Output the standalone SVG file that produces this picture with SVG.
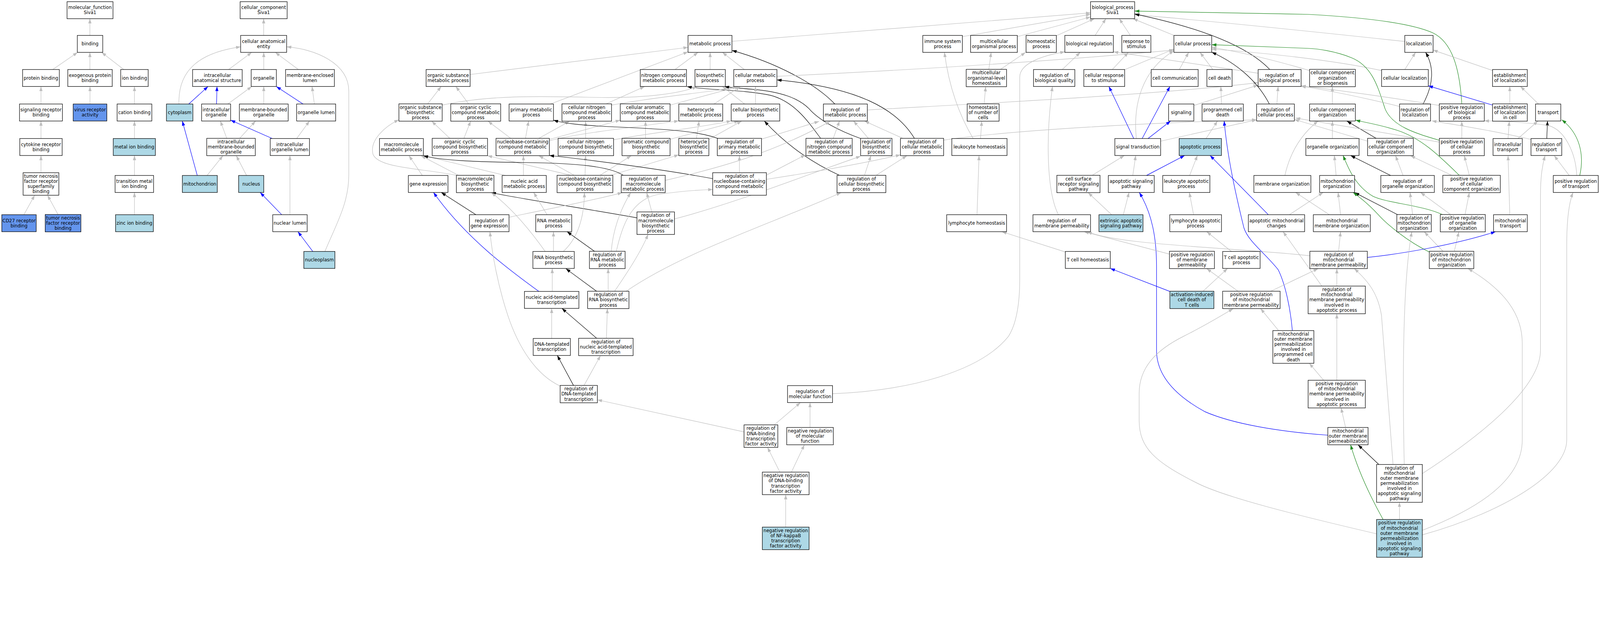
<svg xmlns="http://www.w3.org/2000/svg" width="4569" height="1597" viewBox="0 0 4569 1597" preserveAspectRatio="xMidYMin meet">
<style>
svg{max-width:100vw;max-height:100vh}
.n rect{fill:#fff;stroke:#000;stroke-width:1.4}
.n.lb rect{fill:#add8e6}
.n.cb rect{fill:#6495ed}
.n text{font-family:"DejaVu Sans","Liberation Sans",sans-serif;font-size:13px;text-anchor:middle;fill:#000}
#edges path{fill:none;stroke-width:1.3}
#edges .g{stroke:#bebebe;marker-end:url(#mg)}
#edges .k{stroke:#000;marker-end:url(#mk)}
#edges .b{stroke:#00f;marker-end:url(#mb)}
#edges .gr{stroke:#228b22;marker-end:url(#mgr)}
</style>
<defs>
<marker id="mg" viewBox="0 0 14 10" refX="13.3" refY="5" markerWidth="14" markerHeight="10" markerUnits="userSpaceOnUse" orient="auto"><path d="M0,0.4 L13.3,5 L0,9.6 z" fill="#bebebe"/></marker>
<marker id="mk" viewBox="0 0 14 10" refX="13.3" refY="5" markerWidth="14" markerHeight="10" markerUnits="userSpaceOnUse" orient="auto"><path d="M0,0.4 L13.3,5 L0,9.6 z" fill="#000"/></marker>
<marker id="mb" viewBox="0 0 14 10" refX="13.3" refY="5" markerWidth="14" markerHeight="10" markerUnits="userSpaceOnUse" orient="auto"><path d="M0,0.4 L13.3,5 L0,9.6 z" fill="#00f"/></marker>
<marker id="mgr" viewBox="0 0 14 10" refX="13.3" refY="5" markerWidth="14" markerHeight="10" markerUnits="userSpaceOnUse" orient="auto"><path d="M0,0.4 L13.3,5 L0,9.6 z" fill="#228b22"/></marker>
</defs>
<rect width="4569" height="1597" fill="#fff"/>
<g id="edges">
<path class="g" d="M256.7,101 L256.7,53.4"/>
<path class="g" d="M150.4,198.5 L221.5,149.6"/>
<path class="g" d="M256.7,198.5 L256.7,149.6"/>
<path class="g" d="M353.5,198.5 L290.4,149.6"/>
<path class="g" d="M117,297 L117,247"/>
<path class="g" d="M257,297 L257,247"/>
<path class="g" d="M384,297 L384,247"/>
<path class="g" d="M117,395.5 L117,345.5"/>
<path class="g" d="M384,395.5 L384,345.5"/>
<path class="g" d="M117,493 L117,444"/>
<path class="g" d="M384,501 L384,444"/>
<path class="g" d="M68.2,613 L99,557.4"/>
<path class="g" d="M165.8,612.5 L135.7,557.4"/>
<path class="g" d="M384,613 L384,549.5"/>
<path class="g" d="M752.9,101 L752.9,53.4"/>
<path class="g" d="M652.7,198.5 L718.8,149.6"/>
<path class="g" d="M753.2,198.5 L753.2,149.6"/>
<path class="g" d="M852.2,198.5 L786.2,149.6"/>
<path class="g" d="M511,297 C508,200 570,150 687.2,133.7"/>
<path class="b" d="M539,297 L594,247"/>
<path class="b" d="M618.3,297 L619.7,247"/>
<path class="g" d="M650.5,297 L718.8,247"/>
<path class="g" d="M753.2,297 L753.2,247"/>
<path class="b" d="M865.4,297 L789.2,247"/>
<path class="g" d="M897.7,297 L891.1,247"/>
<path class="g" d="M647.6,395 L629.3,345.5"/>
<path class="g" d="M684.3,395 L729.8,345.5"/>
<path class="b" d="M777.4,395.5 L658.6,343"/>
<path class="g" d="M847.1,395.5 L883.8,345.5"/>
<path class="b" d="M563.3,501 L520.7,345.5"/>
<path class="g" d="M591.2,501 L636.6,444.5"/>
<path class="g" d="M704.1,501 L674.8,444.5"/>
<path class="b" d="M804.6,613 L743,549.5"/>
<path class="g" d="M828,613 L828,444"/>
<path class="b" d="M893.3,718 L850.8,661.5"/>
<path class="g" d="M927.8,718 C960,640 996,580 996,500 L996,260 C996,180 900,140 818.5,133.7"/>
<path class="g" d="M2090.2,118 L3114.2,36.7"/>
<path class="g" d="M2748.1,104.6 L3114.2,40.8"/>
<path class="g" d="M2905.1,104.6 L3114.2,48.5"/>
<path class="g" d="M3016.6,102 L3125,53.4"/>
<path class="g" d="M3127.3,101 L3158,53.4"/>
<path class="g" d="M3227.8,101 L3196.3,53.4"/>
<path class="g" d="M3352.3,101 L3235.6,53.4"/>
<path class="g" d="M4011.6,118.4 C3700,85 3400,55 3240.2,42"/>
<path class="k" d="M3626,198.5 C3580,150 3480,90 3240.2,40"/>
<path class="gr" d="M4174.4,297 C4168,190 4145,120 4092,94 C4030,66 3900,50 3735,41 L3240.2,31.6"/>
<path class="g" d="M3592.7,209 L3180,148"/>
<path class="g" d="M3409.3,301 L3592.7,243"/>
<path class="g" d="M2476.8,314 C2900,290 3300,270 3592.7,236"/>
<path class="g" d="M1342.2,212.8 L1964.8,135.2"/>
<path class="g" d="M1571.7,297 L1964.8,148"/>
<path class="g" d="M1927.4,198.5 L1993.4,149.6"/>
<path class="g" d="M2027.9,198.5 L2027.9,149.6"/>
<path class="g" d="M2125.5,198.5 L2063,149.6"/>
<path class="k" d="M2384,297 C2330,240 2220,180 2090.2,144"/>
<path class="g" d="M2218.6,218 C2600,200 3000,175 3352.3,143"/>
<path class="k" d="M2611.6,395.5 C2560,310 2450,250 2218.6,228"/>
<path class="k" d="M2343.8,395.5 C2310,350 2270,290 2200,272 C2120,255 2020,258 1962,247"/>
<path class="k" d="M2457.6,395.5 C2400,375 2340,345 2310,310 C2280,280 2230,262 2150,255 C2110,252 2085,250 2069,247"/>
<path class="k" d="M2397.3,500.5 C2330,470 2250,420 2182.7,345.5"/>
<path class="g" d="M1221.4,296.5 L1259.7,247"/>
<path class="g" d="M1338.1,296.5 L1301.8,247"/>
<path class="g" d="M1263,300 C1400,270 1550,275 1700,278 C1850,281 1950,265 1990,247"/>
<path class="g" d="M1731,296.5 L1840.8,247"/>
<path class="g" d="M1746.3,300 C1900,272 2050,262 2105,247"/>
<path class="g" d="M1913.5,300 L2110,247"/>
<path class="g" d="M2039,297 L2114,247"/>
<path class="g" d="M2126.5,297 L2063,247"/>
<path class="g" d="M2157.4,297 L2157.4,247"/>
<path class="g" d="M1284.6,395 L1232.9,346"/>
<path class="g" d="M1324.8,395 L1343.9,346"/>
<path class="g" d="M1458.7,395 L1393.6,346"/>
<path class="g" d="M1500.6,395 L1509.4,345.5"/>
<path class="g" d="M1538.7,395 L1626.7,346"/>
<path class="g" d="M1568.8,398 L1771.2,343"/>
<path class="g" d="M1568.8,402 C1650,380 1800,365 1938.4,345"/>
<path class="g" d="M1672.4,395 L1672.4,346"/>
<path class="g" d="M1752,399 C1850,380 2000,365 2088,345"/>
<path class="g" d="M1843.4,395 L1843.4,346"/>
<path class="g" d="M1912,398 L2110,345.5"/>
<path class="g" d="M1988.8,395 L1996.4,345.5"/>
<path class="g" d="M2024,398 L2118,345.5"/>
<path class="k" d="M2050,395.5 C1990,372 1880,368 1750,362 C1650,357 1610,352 1580.5,343"/>
<path class="g" d="M2175,397 C2250,375 2300,358 2339,346.5"/>
<path class="g" d="M1206.1,501 L1167.9,444.5"/>
<path class="g" d="M1309.4,500.5 L1202.3,444.5"/>
<path class="g" d="M1303,500.5 C1200,480 1080,480 1065,440 C1055,400 1100,360 1139.2,342"/>
<path class="g" d="M1443.4,501 L1210,444.5"/>
<path class="g" d="M1494.7,501 L1494.7,444.5"/>
<path class="g" d="M1630.4,500.5 L1392,444.5"/>
<path class="g" d="M1640,500.5 L1538.7,444.5"/>
<path class="g" d="M1670.7,500.5 L1672.2,444.5"/>
<path class="g" d="M1713.3,500.5 L1802.6,444.5"/>
<path class="g" d="M1743.9,500.5 L1938.4,442"/>
<path class="k" d="M1780,500.5 C1740,475 1650,466 1500,464 C1350,462 1260,458 1209,444.5"/>
<path class="k" d="M2035.2,510 C1900,485 1700,458 1568.8,444"/>
<path class="g" d="M1899.6,515 C2050,480 2200,440 2370.5,346.5"/>
<path class="g" d="M2379.5,395 L2397.3,345.5"/>
<path class="g" d="M2479.9,395 L2437.5,345.5"/>
<path class="g" d="M2578,395 L2468.8,345.5"/>
<path class="g" d="M2111.5,493 L2111.5,444.5"/>
<path class="g" d="M2188.5,500 L2300,442"/>
<path class="g" d="M2188.5,512 C2300,495 2450,470 2571.4,442"/>
<path class="g" d="M2468.7,500.5 L2487,444.5"/>
<path class="g" d="M2501.7,500.5 L2589.7,444.5"/>
<path class="g" d="M1926,625 C2100,580 2300,500 2457.7,446"/>
<path class="g" d="M1861.4,605 L1846.7,550"/>
<path class="k" d="M1819,622 C1700,600 1500,570 1403,550"/>
<path class="g" d="M2694.6,400 C2900,370 3300,350 3588.4,342"/>
<path class="k" d="M1359,612.9 L1260,549.5"/>
<path class="g" d="M1453.6,620 C1600,590 1700,570 1777,550"/>
<path class="g" d="M1562.2,613 L1524,549.5"/>
<path class="g" d="M1580.5,718 L1580.5,661.5"/>
<path class="g" d="M1557,718 C1530,680 1470,600 1403,550"/>
<path class="g" d="M1608.4,718 C1650,680 1668,620 1669,550"/>
<path class="k" d="M1698.6,718 L1619.4,661.5"/>
<path class="g" d="M1745.5,717.5 C1750,660 1770,600 1801,550"/>
<path class="g" d="M1760,717.5 C1775,650 1800,570 1880,555 C1950,545 2000,542 2035.2,541"/>
<path class="k" d="M1703.7,831.5 L1616,767"/>
<path class="g" d="M1736.7,831.5 L1736.7,766.8"/>
<path class="g" d="M1755,831.5 C1790,780 1830,720 1850.6,669.4"/>
<path class="g" d="M1788,831.5 C1950,720 2200,640 2401.8,550"/>
<path class="g" d="M1577,831.9 L1577,766.4"/>
<path class="b" d="M1538.7,831.9 C1460,775 1330,680 1238,549.5"/>
<path class="k" d="M1703.7,965.7 L1604.7,880.5"/>
<path class="g" d="M1731.6,965.7 L1734.5,881"/>
<path class="g" d="M1575.4,966.2 L1575.4,880.5"/>
<path class="k" d="M1637.7,1100.3 L1591.5,1014.8"/>
<path class="g" d="M1667.8,1100.3 L1714.7,1015.3"/>
<path class="g" d="M1599.6,1102 C1530,1070 1480,990 1450,900 C1420,810 1405,720 1399,661.5"/>
<path class="g" d="M2124.6,1233 L1705.9,1141.4"/>
<path class="g" d="M2211,1213 L2285.6,1149.4"/>
<path class="g" d="M2313.1,1220.3 L2313.1,1149.4"/>
<path class="g" d="M2227,1347.8 L2191.8,1277.3"/>
<path class="g" d="M2260,1347.8 L2297,1270"/>
<path class="g" d="M2243.7,1504.8 L2243.7,1412.2"/>
<path class="g" d="M2377.4,1124 C2600,1115 2800,1060 2880,960 C2905,920 2912,860 2912,797 L2912,220 C2912,180 2980,158 3040.8,148"/>
<path class="g" d="M2823.7,198 L2830.4,149.6"/>
<path class="g" d="M2857.1,198 L2928.6,149.6"/>
<path class="g" d="M2810.3,296.5 L2814.7,247.5"/>
<path class="g" d="M2800,395.5 L2803.6,346"/>
<path class="g" d="M2779,395.5 C2740,330 2710,250 2697,149.6"/>
<path class="g" d="M2790,613 L2795.8,444"/>
<path class="g" d="M3042.2,719.4 L2861,661.5"/>
<path class="b" d="M3340.7,832 L3170.6,766.4"/>
<path class="g" d="M3435.3,831.5 L3505.4,766.4"/>
<path class="b" d="M3791.8,1242.4 C3650,1232 3520,1210 3440,1175 C3340,1120 3302.6,1060 3302.6,1000 L3302.6,760 C3302.6,680 3290,610 3253.5,549.5"/>
<path class="b" d="M3237.5,395.5 L3166.7,247"/>
<path class="b" d="M3261.6,395.5 L3340.8,247"/>
<path class="b" d="M3278.4,395.5 L3342.7,345.5"/>
<path class="g" d="M3245,395.5 C3235,300 3260,200 3352.3,145"/>
<path class="g" d="M3314.4,403 L3588.4,342"/>
<path class="g" d="M3176.3,198.5 L3222.2,149.6"/>
<path class="g" d="M3212.6,198.5 L3352.3,140"/>
<path class="g" d="M3367.6,198.5 L3394.4,149.6"/>
<path class="g" d="M3463.3,198.5 L3426.9,149.6"/>
<path class="g" d="M3488.1,297 L3486.3,247"/>
<path class="g" d="M3444.1,395.5 L3476.7,345.5"/>
<path class="b" d="M3273.9,501 L3382.9,444"/>
<path class="g" d="M3234.8,501 L3243.2,444"/>
<path class="g" d="M3118.9,500.5 L3210.7,444"/>
<path class="g" d="M3397.1,501 L3419.3,444"/>
<path class="g" d="M3207.7,613 L3224.1,549.5"/>
<path class="g" d="M3174.4,613 L3107.4,550"/>
<path class="g" d="M3408.5,613 L3396.3,549.5"/>
<path class="g" d="M3516.8,718 L3446,661.5"/>
<path class="g" d="M3339.7,725.5 L3095.9,661.5"/>
<path class="g" d="M3740.5,730 C3500,705 3200,700 3105,661.5"/>
<path class="g" d="M3022.4,613 C2990,550 2985,400 3005.5,247"/>
<path class="g" d="M3033.4,198.5 L3084.8,149.6"/>
<path class="b" d="M3622,613 L3455.6,444"/>
<path class="b" d="M3690.5,943.8 C3685,880 3670,810 3650,770 C3610,720 3565,690 3552,650 C3530,560 3505,450 3495.8,345.5"/>
<path class="g" d="M3739.7,201.5 C3650,175 3550,150 3460.2,135"/>
<path class="g" d="M3945.3,201.5 C3800,170 3600,150 3460.2,140"/>
<path class="gr" d="M4110.1,400.5 C4040,380 3975,360 3955,310 C3935,250 3920,190 3860,165 C3810,145 3760,139 3735,138 L3460.2,127.6"/>
<path class="k" d="M3624.8,297 C3590,230 3530,180 3460.2,149"/>
<path class="g" d="M4011.6,198.5 L4042.3,149.6"/>
<path class="g" d="M4262.8,201.5 L4092.3,142.9"/>
<path class="k" d="M4063.7,297 C4095,240 4095,190 4071,149.6"/>
<path class="g" d="M4110.1,301 C3950,275 3800,255 3715.5,245"/>
<path class="g" d="M3996.7,304 C3900,280 3780,255 3715.5,246.5"/>
<path class="g" d="M3646.3,297 L3649.8,247"/>
<path class="g" d="M3804.7,297 L3804.7,247.5"/>
<path class="g" d="M4311.4,296.5 L4311.4,247"/>
<path class="b" d="M4262.1,300 L4078.7,245"/>
<path class="g" d="M4393.4,297 L4342.1,247"/>
<path class="g" d="M3804.7,395.5 L3804.7,345.5"/>
<path class="k" d="M3929.6,395 L3846.1,345.5"/>
<path class="g" d="M3905.3,403 L3696.2,341"/>
<path class="g" d="M4110.1,405.6 L3699.8,337"/>
<path class="g" d="M4174.4,395 L4174.4,346"/>
<path class="g" d="M4306.4,395.5 L4310,346"/>
<path class="g" d="M4334.9,395.5 L4392,345.5"/>
<path class="k" d="M4417,395.5 L4419.1,345.5"/>
<path class="g" d="M4372,398 C4250,370 4150,355 4088.7,345"/>
<path class="g" d="M4502.6,501 C4500,440 4470,370 4420,358 C4350,348 4290,346 4238.6,345"/>
<path class="g" d="M4481.2,501 L4438.4,444.5"/>
<path class="gr" d="M4511.2,501 C4525,440 4510,380 4459.8,342"/>
<path class="g" d="M3815.4,501 L3810.4,444"/>
<path class="g" d="M3669.1,501 C3685,430 3720,380 3764,345.5"/>
<path class="k" d="M3971,501 L3856.8,444"/>
<path class="g" d="M4006.6,501 L3985.2,444.5"/>
<path class="g" d="M4145.8,500.5 L4028,444.5"/>
<path class="g" d="M4195.8,500.5 L4181.5,444.5"/>
<path class="gr" d="M4167.2,500.5 C4110,445 4060,395 3990,372 C3940,356 3900,350 3871,343"/>
<path class="g" d="M4142.2,612.5 L4056.6,549.5"/>
<path class="g" d="M4183.6,612.5 L4195.8,550"/>
<path class="gr" d="M4118.7,612.5 C4060,585 3960,580 3920,560 C3870,530 3850,480 3835.4,444"/>
<path class="k" d="M3990.2,612.5 L3868.2,549.5"/>
<path class="g" d="M4033.8,612.5 L4026.6,549.5"/>
<path class="g" d="M3796.1,613 L3699.8,549.5"/>
<path class="g" d="M3828.2,613 L3821.1,549.5"/>
<path class="g" d="M3682,613 L3778.3,549.5"/>
<path class="gr" d="M4081.6,719.4 C4020,690 3960,640 3935,612 C3910,585 3890,568 3863.9,549.5"/>
<path class="g" d="M4120.8,717.5 L4067.3,662"/>
<path class="g" d="M4153,717.5 L4165.8,662"/>
<path class="g" d="M4311.4,613 L4306.4,444.5"/>
<path class="b" d="M3904.6,735 C4000,725 4150,700 4270.7,661.5"/>
<path class="g" d="M3822.5,717.5 L3828.2,661.5"/>
<path class="g" d="M3628.4,831.5 L3764,767"/>
<path class="g" d="M3535.6,831.5 L3446,767"/>
<path class="g" d="M3817.5,816.7 L3817.5,767"/>
<path class="g" d="M3774.7,816.7 L3664,661.5"/>
<path class="g" d="M3651.3,943.8 L3599.9,881"/>
<path class="g" d="M3817.5,1085.6 L3817.5,895.7"/>
<path class="g" d="M3779.7,1085.6 L3739,1037.3"/>
<path class="g" d="M3842.5,1220.4 L3829.7,1164.6"/>
<path class="k" d="M3937.4,1326 L3878.2,1270"/>
<path class="gr" d="M3949.6,1483 C3920,1430 3880,1350 3856.8,1270"/>
<path class="g" d="M3996.3,1483 L3996.3,1434"/>
<path class="g" d="M4010,1326 C4003,1000 4010,780 4031.6,662"/>
<path class="g" d="M3978,1326 C3960,1100 3950,950 3945,900 C3935,840 3910,805 3867.5,767"/>
<path class="g" d="M4061.6,1352 C4250,1230 4399,1100 4399,1000 L4399,560 C4399,500 4405,470 4412,444.5"/>
<path class="g" d="M4061.6,1514 C4200,1460 4347,1380 4347,1256 L4347,980 C4347,900 4300,830 4192.2,767"/>
<path class="g" d="M4061.6,1527 C4300,1460 4474,1350 4474,1256 L4474,700 C4474,630 4480,580 4491.9,550"/>
<path class="g" d="M3931,1524 C3700,1470 3500,1420 3420,1380 C3300,1320 3253,1280 3253,1200 L3253,1123 C3253,1050 3300,1000 3380,960 C3440,930 3490,900 3521.4,881.2"/>
</g>
<g id="n_mf" class="n"><rect x="191.4" y="4.85" width="131.3" height="48.5"/><text x="257.05" y="26.1">molecular_function<tspan x="257.05" dy="14.6">Siva1</tspan></text></g>
<g id="n_binding" class="n"><rect x="220.8" y="101.05" width="72.6" height="48.5"/><text x="257.1" y="129.6">binding</text></g>
<g id="n_protbind" class="n"><rect x="64.5" y="198.45" width="104.9" height="48.5"/><text x="116.95" y="227">protein binding</text></g>
<g id="n_exoprot" class="n"><rect x="193.6" y="198.45" width="126.9" height="48.5"/><text x="257.05" y="219.7">exogenous protein<tspan x="257.05" dy="14.6">binding</tspan></text></g>
<g id="n_ionbind" class="n"><rect x="344.7" y="198.45" width="78.5" height="48.5"/><text x="383.95" y="227">ion binding</text></g>
<g id="n_sigrec" class="n"><rect x="55.7" y="296.95" width="122.5" height="48.5"/><text x="116.95" y="318.2">signaling receptor<tspan x="116.95" dy="14.6">binding</tspan></text></g>
<g id="n_virus" class="n cb"><rect x="209" y="296.95" width="96.1" height="48.5"/><text x="257.05" y="318.2">virus receptor<tspan x="257.05" dy="14.6">activity</tspan></text></g>
<g id="n_cation" class="n"><rect x="334.4" y="296.95" width="99.1" height="48.5"/><text x="383.95" y="325.5">cation binding</text></g>
<g id="n_cytok" class="n"><rect x="56.5" y="395.45" width="121" height="48.5"/><text x="117" y="416.7">cytokine receptor<tspan x="117" dy="14.6">binding</tspan></text></g>
<g id="n_metal" class="n lb"><rect x="323.4" y="395.45" width="120.3" height="48.5"/><text x="383.55" y="424">metal ion binding</text></g>
<g id="n_tnfrsf" class="n"><rect x="66" y="493.05" width="102" height="64.3"/><text x="117" y="507.6">tumor necrosis<tspan x="117" dy="14.6">factor receptor</tspan><tspan x="117" dy="14.6">superfamily</tspan><tspan x="117" dy="14.6">binding</tspan></text></g>
<g id="n_transmetal" class="n"><rect x="328.6" y="500.95" width="110" height="48.5"/><text x="383.6" y="522.2">transition metal<tspan x="383.6" dy="14.6">ion binding</tspan></text></g>
<g id="n_cd27" class="n cb"><rect x="5.1" y="612.95" width="98.3" height="48.5"/><text x="54.25" y="634.2">CD27 receptor<tspan x="54.25" dy="14.6">binding</tspan></text></g>
<g id="n_tnfr" class="n cb"><rect x="129.1" y="612.45" width="101.9" height="49.5"/><text x="180.05" y="626.9">tumor necrosis<tspan x="180.05" dy="14.6">factor receptor</tspan><tspan x="180.05" dy="14.6">binding</tspan></text></g>
<g id="n_zinc" class="n lb"><rect x="330" y="612.95" width="107.9" height="48.5"/><text x="383.95" y="641.5">zinc ion binding</text></g>
<g id="n_cc" class="n"><rect x="685.7" y="4.85" width="134.3" height="48.5"/><text x="752.85" y="26.1">cellular_component<tspan x="752.85" dy="14.6">Siva1</tspan></text></g>
<g id="n_cae" class="n"><rect x="687.2" y="101.05" width="131.3" height="48.5"/><text x="752.85" y="122.3">cellular anatomical<tspan x="752.85" dy="14.6">entity</tspan></text></g>
<g id="n_ias" class="n"><rect x="550" y="198.45" width="141.6" height="48.5"/><text x="620.8" y="219.7">intracellular<tspan x="620.8" dy="14.6">anatomical structure</tspan></text></g>
<g id="n_organelle" class="n"><rect x="717.3" y="198.45" width="71.9" height="48.5"/><text x="753.25" y="227">organelle</text></g>
<g id="n_mel" class="n"><rect x="815.5" y="198.45" width="139.4" height="48.5"/><text x="885.2" y="219.7">membrane-enclosed<tspan x="885.2" dy="14.6">lumen</tspan></text></g>
<g id="n_cytoplasm" class="n lb"><rect x="475.3" y="296.95" width="75.5" height="48.5"/><text x="513.05" y="325.5">cytoplasm</text></g>
<g id="n_io" class="n"><rect x="575.7" y="296.95" width="82.9" height="48.5"/><text x="617.15" y="318.2">intracellular<tspan x="617.15" dy="14.6">organelle</tspan></text></g>
<g id="n_mbo" class="n"><rect x="683.5" y="296.95" width="139.4" height="48.5"/><text x="753.2" y="318.2">membrane-bounded<tspan x="753.2" dy="14.6">organelle</tspan></text></g>
<g id="n_ol" class="n"><rect x="847.1" y="296.95" width="111.5" height="48.5"/><text x="902.85" y="325.5">organelle lumen</text></g>
<g id="n_imbo" class="n"><rect x="590.4" y="394.95" width="138.6" height="49.5"/><text x="659.7" y="409.4">intracellular<tspan x="659.7" dy="14.6">membrane-bounded</tspan><tspan x="659.7" dy="14.6">organelle</tspan></text></g>
<g id="n_iol" class="n"><rect x="771.6" y="395.45" width="112.2" height="48.5"/><text x="827.7" y="416.7">intracellular<tspan x="827.7" dy="14.6">organelle lumen</tspan></text></g>
<g id="n_mito" class="n lb"><rect x="520.7" y="500.95" width="99.8" height="48.5"/><text x="570.6" y="529.5">mitochondrion</text></g>
<g id="n_nucleus" class="n lb"><rect x="681.4" y="500.95" width="71.8" height="48.5"/><text x="717.3" y="529.5">nucleus</text></g>
<g id="n_nuclum" class="n"><rect x="778.9" y="612.95" width="98.3" height="48.5"/><text x="828.05" y="641.5">nuclear lumen</text></g>
<g id="n_nucleoplasm" class="n lb"><rect x="867.6" y="717.85" width="88.8" height="48.5"/><text x="912" y="746.4">nucleoplasm</text></g>
<g id="n_bp" class="n"><rect x="3114.2" y="4.85" width="126" height="48.5"/><text x="3177.2" y="26.1">biological_process<tspan x="3177.2" dy="14.6">Siva1</tspan></text></g>
<g id="n_metab" class="n"><rect x="1964.8" y="101.05" width="125.4" height="48.5"/><text x="2027.5" y="129.6">metabolic process</text></g>
<g id="n_immune" class="n"><rect x="2635.2" y="101.05" width="112.9" height="48.5"/><text x="2691.65" y="122.3">immune system<tspan x="2691.65" dy="14.6">process</tspan></text></g>
<g id="n_multorg" class="n"><rect x="2771.6" y="101.05" width="133.5" height="48.5"/><text x="2838.35" y="122.3">multicellular<tspan x="2838.35" dy="14.6">organismal process</tspan></text></g>
<g id="n_homeo" class="n"><rect x="2930" y="101.05" width="86.6" height="48.5"/><text x="2973.3" y="122.3">homeostatic<tspan x="2973.3" dy="14.6">process</tspan></text></g>
<g id="n_bioreg" class="n"><rect x="3040.8" y="101.05" width="138.6" height="48.5"/><text x="3110.1" y="129.6">biological regulation</text></g>
<g id="n_resp" class="n"><rect x="3203.5" y="101.05" width="83" height="48.5"/><text x="3245" y="122.3">response to<tspan x="3245" dy="14.6">stimulus</tspan></text></g>
<g id="n_cellproc" class="n"><rect x="3352.3" y="101.05" width="107.9" height="48.5"/><text x="3406.25" y="129.6">cellular process</text></g>
<g id="n_local" class="n"><rect x="4011.6" y="101.05" width="80.7" height="48.5"/><text x="4051.95" y="129.6">localization</text></g>
<g id="n_osmp" class="n"><rect x="1216.8" y="198.45" width="125.7" height="48.5"/><text x="1279.65" y="219.7">organic substance<tspan x="1279.65" dy="14.6">metabolic process</tspan></text></g>
<g id="n_ncmp" class="n"><rect x="1828.4" y="198.45" width="132" height="48.5"/><text x="1894.4" y="219.7">nitrogen compound<tspan x="1894.4" dy="14.6">metabolic process</tspan></text></g>
<g id="n_biosyn" class="n"><rect x="1984.6" y="198.45" width="86.6" height="48.5"/><text x="2027.9" y="219.7">biosynthetic<tspan x="2027.9" dy="14.6">process</tspan></text></g>
<g id="n_cellmet" class="n"><rect x="2095.4" y="198.45" width="123.2" height="48.5"/><text x="2157" y="219.7">cellular metabolic<tspan x="2157" dy="14.6">process</tspan></text></g>
<g id="n_mulhomeo" class="n"><rect x="2759.1" y="197.95" width="115.2" height="49.5"/><text x="2816.7" y="212.4">multicellular<tspan x="2816.7" dy="14.6">organismal-level</tspan><tspan x="2816.7" dy="14.6">homeostasis</tspan></text></g>
<g id="n_regbioq" class="n"><rect x="2951.3" y="198.45" width="118" height="48.5"/><text x="3010.3" y="219.7">regulation of<tspan x="3010.3" dy="14.6">biological quality</tspan></text></g>
<g id="n_cellresp" class="n"><rect x="3095" y="198.45" width="116.6" height="48.5"/><text x="3153.3" y="219.7">cellular response<tspan x="3153.3" dy="14.6">to stimulus</tspan></text></g>
<g id="n_cellcomm" class="n"><rect x="3287.5" y="198.45" width="134" height="48.5"/><text x="3354.5" y="227">cell communication</text></g>
<g id="n_celldeath" class="n"><rect x="3446.4" y="198.45" width="72" height="48.5"/><text x="3482.4" y="227">cell death</text></g>
<g id="n_regbp" class="n"><rect x="3592.7" y="198.45" width="122.8" height="48.5"/><text x="3654.1" y="219.7">regulation of<tspan x="3654.1" dy="14.6">biological process</tspan></text></g>
<g id="n_ccob" class="n"><rect x="3739.7" y="197.95" width="130.6" height="49.5"/><text x="3805" y="212.4">cellular component<tspan x="3805" dy="14.6">organization</tspan><tspan x="3805" dy="14.6">or biogenesis</tspan></text></g>
<g id="n_cellloc" class="n"><rect x="3945.3" y="198.45" width="133.4" height="48.5"/><text x="4012" y="227">cellular localization</text></g>
<g id="n_estloc" class="n"><rect x="4262.1" y="198.45" width="99.2" height="48.5"/><text x="4311.7" y="219.7">establishment<tspan x="4311.7" dy="14.6">of localization</tspan></text></g>
<g id="n_osbp" class="n"><rect x="1139.2" y="296.45" width="123.5" height="49.5"/><text x="1200.95" y="310.9">organic substance<tspan x="1200.95" dy="14.6">biosynthetic</tspan><tspan x="1200.95" dy="14.6">process</tspan></text></g>
<g id="n_occmp" class="n"><rect x="1287.2" y="296.45" width="142.5" height="49.5"/><text x="1358.45" y="310.9">organic cyclic<tspan x="1358.45" dy="14.6">compound metabolic</tspan><tspan x="1358.45" dy="14.6">process</tspan></text></g>
<g id="n_pmp" class="n"><rect x="1453.8" y="296.95" width="126.7" height="48.5"/><text x="1517.15" y="318.2">primary metabolic<tspan x="1517.15" dy="14.6">process</tspan></text></g>
<g id="n_cncmp" class="n"><rect x="1604.7" y="296.45" width="141.6" height="49.5"/><text x="1675.5" y="310.9">cellular nitrogen<tspan x="1675.5" dy="14.6">compound metabolic</tspan><tspan x="1675.5" dy="14.6">process</tspan></text></g>
<g id="n_cacmp" class="n"><rect x="1771.2" y="296.45" width="142.3" height="49.5"/><text x="1842.35" y="310.9">cellular aromatic<tspan x="1842.35" dy="14.6">compound metabolic</tspan><tspan x="1842.35" dy="14.6">process</tspan></text></g>
<g id="n_hetmp" class="n"><rect x="1938.4" y="296.95" width="125.4" height="48.5"/><text x="2001.1" y="318.2">heterocycle<tspan x="2001.1" dy="14.6">metabolic process</tspan></text></g>
<g id="n_cbp" class="n"><rect x="2088" y="296.95" width="138.7" height="48.5"/><text x="2157.35" y="318.2">cellular biosynthetic<tspan x="2157.35" dy="14.6">process</tspan></text></g>
<g id="n_regmp" class="n"><rect x="2351.3" y="296.95" width="125.5" height="48.5"/><text x="2414.05" y="318.2">regulation of<tspan x="2414.05" dy="14.6">metabolic process</tspan></text></g>
<g id="n_homnum" class="n"><rect x="2762" y="296.45" width="91" height="49.5"/><text x="2807.5" y="310.9">homeostasis<tspan x="2807.5" dy="14.6">of number of</tspan><tspan x="2807.5" dy="14.6">cells</tspan></text></g>
<g id="n_signaling" class="n"><rect x="3337" y="296.95" width="72.2" height="48.5"/><text x="3373.1" y="325.5">signaling</text></g>
<g id="n_pcd" class="n"><rect x="3432.7" y="296.95" width="117.8" height="48.5"/><text x="3491.6" y="318.2">programmed cell<tspan x="3491.6" dy="14.6">death</tspan></text></g>
<g id="n_regcp" class="n"><rect x="3588.4" y="296.95" width="107.8" height="48.5"/><text x="3642.3" y="318.2">regulation of<tspan x="3642.3" dy="14.6">cellular process</tspan></text></g>
<g id="n_cco" class="n"><rect x="3739.7" y="296.95" width="130.6" height="48.5"/><text x="3805" y="318.2">cellular component<tspan x="3805" dy="14.6">organization</tspan></text></g>
<g id="n_regloc" class="n"><rect x="3996.7" y="296.95" width="88.4" height="48.5"/><text x="4040.9" y="318.2">regulation of<tspan x="4040.9" dy="14.6">localization</tspan></text></g>
<g id="n_posregbp" class="n"><rect x="4110.1" y="296.45" width="128.5" height="49.5"/><text x="4174.35" y="310.9">positive regulation<tspan x="4174.35" dy="14.6">of biological</tspan><tspan x="4174.35" dy="14.6">process</tspan></text></g>
<g id="n_estlocc" class="n"><rect x="4262.1" y="296.45" width="99.2" height="49.5"/><text x="4311.7" y="310.9">establishment<tspan x="4311.7" dy="14.6">of localization</tspan><tspan x="4311.7" dy="14.6">in cell</tspan></text></g>
<g id="n_transport" class="n"><rect x="4384.9" y="296.95" width="72.1" height="48.5"/><text x="4420.95" y="325.5">transport</text></g>
<g id="n_mmp" class="n"><rect x="1083.7" y="395.45" width="125.3" height="48.5"/><text x="1146.35" y="416.7">macromolecule<tspan x="1146.35" dy="14.6">metabolic process</tspan></text></g>
<g id="n_occbp" class="n"><rect x="1234.2" y="394.95" width="158" height="49.5"/><text x="1313.2" y="409.4">organic cyclic<tspan x="1313.2" dy="14.6">compound biosynthetic</tspan><tspan x="1313.2" dy="14.6">process</tspan></text></g>
<g id="n_nbcmp" class="n"><rect x="1416.4" y="394.95" width="152.4" height="49.5"/><text x="1492.6" y="409.4">nucleobase-containing<tspan x="1492.6" dy="14.6">compound metabolic</tspan><tspan x="1492.6" dy="14.6">process</tspan></text></g>
<g id="n_cncbp" class="n"><rect x="1593.7" y="394.95" width="158.4" height="49.5"/><text x="1672.9" y="409.4">cellular nitrogen<tspan x="1672.9" dy="14.6">compound biosynthetic</tspan><tspan x="1672.9" dy="14.6">process</tspan></text></g>
<g id="n_acbp" class="n"><rect x="1776.3" y="394.95" width="137.2" height="49.5"/><text x="1844.9" y="409.4">aromatic compound<tspan x="1844.9" dy="14.6">biosynthetic</tspan><tspan x="1844.9" dy="14.6">process</tspan></text></g>
<g id="n_hetbp" class="n"><rect x="1938.4" y="394.95" width="85.8" height="49.5"/><text x="1981.3" y="409.4">heterocycle<tspan x="1981.3" dy="14.6">biosynthetic</tspan><tspan x="1981.3" dy="14.6">process</tspan></text></g>
<g id="n_regpmp" class="n"><rect x="2048.4" y="394.95" width="126.2" height="49.5"/><text x="2111.5" y="409.4">regulation of<tspan x="2111.5" dy="14.6">primary metabolic</tspan><tspan x="2111.5" dy="14.6">process</tspan></text></g>
<g id="n_regncmp" class="n"><rect x="2301.5" y="394.95" width="132" height="49.5"/><text x="2367.5" y="409.4">regulation of<tspan x="2367.5" dy="14.6">nitrogen compound</tspan><tspan x="2367.5" dy="14.6">metabolic process</tspan></text></g>
<g id="n_regbiosyn" class="n"><rect x="2457.7" y="394.95" width="89.5" height="49.5"/><text x="2502.45" y="409.4">regulation of<tspan x="2502.45" dy="14.6">biosynthetic</tspan><tspan x="2502.45" dy="14.6">process</tspan></text></g>
<g id="n_regcmp" class="n"><rect x="2571.4" y="394.95" width="123.2" height="49.5"/><text x="2633" y="409.4">regulation of<tspan x="2633" dy="14.6">cellular metabolic</tspan><tspan x="2633" dy="14.6">process</tspan></text></g>
<g id="n_leukhom" class="n"><rect x="2718" y="395.45" width="157.7" height="48.5"/><text x="2796.85" y="424">leukocyte homeostasis</text></g>
<g id="n_sigtrans" class="n"><rect x="3183.6" y="395.45" width="130.8" height="48.5"/><text x="3249" y="424">signal transduction</text></g>
<g id="n_apop" class="n lb"><rect x="3367.2" y="395.45" width="120.8" height="48.5"/><text x="3427.6" y="424">apoptotic process</text></g>
<g id="n_orgorg" class="n"><rect x="3729" y="395.45" width="152" height="48.5"/><text x="3805" y="424">organelle organization</text></g>
<g id="n_regcco" class="n"><rect x="3905.3" y="394.95" width="130.6" height="49.5"/><text x="3970.6" y="409.4">regulation of<tspan x="3970.6" dy="14.6">cellular component</tspan><tspan x="3970.6" dy="14.6">organization</tspan></text></g>
<g id="n_posregcp" class="n"><rect x="4110.1" y="394.95" width="128.5" height="49.5"/><text x="4174.35" y="409.4">positive regulation<tspan x="4174.35" dy="14.6">of cellular</tspan><tspan x="4174.35" dy="14.6">process</tspan></text></g>
<g id="n_intratrans" class="n"><rect x="4263.6" y="395.45" width="83.5" height="48.5"/><text x="4305.35" y="416.7">intracellular<tspan x="4305.35" dy="14.6">transport</tspan></text></g>
<g id="n_regtrans" class="n"><rect x="4372" y="395.45" width="87.8" height="48.5"/><text x="4415.9" y="416.7">regulation of<tspan x="4415.9" dy="14.6">transport</tspan></text></g>
<g id="n_geneexp" class="n"><rect x="1166.1" y="500.95" width="113.1" height="48.5"/><text x="1222.65" y="529.5">gene expression</text></g>
<g id="n_mbp" class="n"><rect x="1303.3" y="500.45" width="107.2" height="49.5"/><text x="1356.9" y="514.9">macromolecule<tspan x="1356.9" dy="14.6">biosynthetic</tspan><tspan x="1356.9" dy="14.6">process</tspan></text></g>
<g id="n_namp" class="n"><rect x="1433.9" y="500.95" width="126.1" height="48.5"/><text x="1496.95" y="522.2">nucleic acid<tspan x="1496.95" dy="14.6">metabolic process</tspan></text></g>
<g id="n_nbcbp" class="n"><rect x="1590.8" y="500.45" width="159.2" height="49.5"/><text x="1670.4" y="514.9">nucleobase-containing<tspan x="1670.4" dy="14.6">compound biosynthetic</tspan><tspan x="1670.4" dy="14.6">process</tspan></text></g>
<g id="n_regmmp" class="n"><rect x="1774.1" y="500.45" width="125.5" height="49.5"/><text x="1836.85" y="514.9">regulation of<tspan x="1836.85" dy="14.6">macromolecule</tspan><tspan x="1836.85" dy="14.6">metabolic process</tspan></text></g>
<g id="n_regnbcmp" class="n"><rect x="2035.2" y="493.05" width="153.3" height="64.3"/><text x="2111.85" y="507.6">regulation of<tspan x="2111.85" dy="14.6">nucleobase-containing</tspan><tspan x="2111.85" dy="14.6">compound metabolic</tspan><tspan x="2111.85" dy="14.6">process</tspan></text></g>
<g id="n_regcbp" class="n"><rect x="2390.2" y="500.45" width="139.4" height="49.5"/><text x="2459.9" y="514.9">regulation of<tspan x="2459.9" dy="14.6">cellular biosynthetic</tspan><tspan x="2459.9" dy="14.6">process</tspan></text></g>
<g id="n_cellsurf" class="n"><rect x="3018" y="500.45" width="123.2" height="49.5"/><text x="3079.6" y="514.9">cell surface<tspan x="3079.6" dy="14.6">receptor signaling</tspan><tspan x="3079.6" dy="14.6">pathway</tspan></text></g>
<g id="n_apopsig" class="n"><rect x="3165" y="500.95" width="131" height="48.5"/><text x="3230.5" y="522.2">apoptotic signaling<tspan x="3230.5" dy="14.6">pathway</tspan></text></g>
<g id="n_leukapop" class="n"><rect x="3320.3" y="500.95" width="134.7" height="48.5"/><text x="3387.65" y="522.2">leukocyte apoptotic<tspan x="3387.65" dy="14.6">process</tspan></text></g>
<g id="n_memorg" class="n"><rect x="3580.6" y="500.95" width="162.7" height="48.5"/><text x="3661.95" y="529.5">membrane organization</text></g>
<g id="n_mitoorg" class="n"><rect x="3768.3" y="500.95" width="99.9" height="48.5"/><text x="3818.25" y="522.2">mitochondrion<tspan x="3818.25" dy="14.6">organization</tspan></text></g>
<g id="n_regorgorg" class="n"><rect x="3943.1" y="500.95" width="152.8" height="48.5"/><text x="4019.5" y="522.2">regulation of<tspan x="4019.5" dy="14.6">organelle organization</tspan></text></g>
<g id="n_posregcco" class="n"><rect x="4120.1" y="500.45" width="164.2" height="49.5"/><text x="4202.2" y="514.9">positive regulation<tspan x="4202.2" dy="14.6">of cellular</tspan><tspan x="4202.2" dy="14.6">component organization</tspan></text></g>
<g id="n_posregtrans" class="n"><rect x="4435.6" y="500.95" width="128.4" height="48.5"/><text x="4499.8" y="522.2">positive regulation<tspan x="4499.8" dy="14.6">of transport</tspan></text></g>
<g id="n_reggeneexp" class="n"><rect x="1340.6" y="612.95" width="113" height="48.5"/><text x="1397.1" y="634.2">regulation of<tspan x="1397.1" dy="14.6">gene expression</tspan></text></g>
<g id="n_rnamp" class="n"><rect x="1529.9" y="612.95" width="102.7" height="48.5"/><text x="1581.25" y="634.2">RNA metabolic<tspan x="1581.25" dy="14.6">process</tspan></text></g>
<g id="n_regmbp" class="n"><rect x="1818.9" y="605.05" width="107.1" height="64.3"/><text x="1872.45" y="619.6">regulation of<tspan x="1872.45" dy="14.6">macromolecule</tspan><tspan x="1872.45" dy="14.6">biosynthetic</tspan><tspan x="1872.45" dy="14.6">process</tspan></text></g>
<g id="n_lymphhom" class="n"><rect x="2703.4" y="612.95" width="170.9" height="48.5"/><text x="2788.85" y="641.5">lymphocyte homeostasis</text></g>
<g id="n_regmemperm" class="n"><rect x="2949.8" y="612.95" width="164.3" height="48.5"/><text x="3031.95" y="634.2">regulation of<tspan x="3031.95" dy="14.6">membrane permeability</tspan></text></g>
<g id="n_extapop" class="n lb"><rect x="3138.2" y="612.95" width="125.8" height="48.5"/><text x="3201.1" y="634.2">extrinsic apoptotic<tspan x="3201.1" dy="14.6">signaling pathway</tspan></text></g>
<g id="n_lymphapop" class="n"><rect x="3340.4" y="612.95" width="147.7" height="48.5"/><text x="3414.25" y="634.2">lymphocyte apoptotic<tspan x="3414.25" dy="14.6">process</tspan></text></g>
<g id="n_apopmito" class="n"><rect x="3564.8" y="612.95" width="160.7" height="48.5"/><text x="3645.15" y="634.2">apoptotic mitochondrial<tspan x="3645.15" dy="14.6">changes</tspan></text></g>
<g id="n_mitomemorg" class="n"><rect x="3750.4" y="612.95" width="162.8" height="48.5"/><text x="3831.8" y="634.2">mitochondrial<tspan x="3831.8" dy="14.6">membrane organization</tspan></text></g>
<g id="n_regmitoorg" class="n"><rect x="3988.8" y="612.45" width="98.5" height="49.5"/><text x="4038.05" y="626.9">regulation of<tspan x="4038.05" dy="14.6">mitochondrion</tspan><tspan x="4038.05" dy="14.6">organization</tspan></text></g>
<g id="n_posregorgorg" class="n"><rect x="4113" y="612.45" width="128.4" height="49.5"/><text x="4177.2" y="626.9">positive regulation<tspan x="4177.2" dy="14.6">of organelle</tspan><tspan x="4177.2" dy="14.6">organization</tspan></text></g>
<g id="n_mitotrans" class="n"><rect x="4265" y="612.95" width="96.3" height="48.5"/><text x="4313.15" y="634.2">mitochondrial<tspan x="4313.15" dy="14.6">transport</tspan></text></g>
<g id="n_rnabp" class="n"><rect x="1521.8" y="717.85" width="118.1" height="48.5"/><text x="1580.85" y="739.1">RNA biosynthetic<tspan x="1580.85" dy="14.6">process</tspan></text></g>
<g id="n_regrnamp" class="n"><rect x="1683.2" y="717.35" width="101.9" height="49.5"/><text x="1734.15" y="731.8">regulation of<tspan x="1734.15" dy="14.6">RNA metabolic</tspan><tspan x="1734.15" dy="14.6">process</tspan></text></g>
<g id="n_tcellhom" class="n"><rect x="3042.2" y="717.85" width="128.4" height="48.5"/><text x="3106.4" y="746.4">T cell homeostasis</text></g>
<g id="n_posregmemperm" class="n"><rect x="3339.5" y="717.35" width="128.4" height="49.5"/><text x="3403.7" y="731.8">positive regulation<tspan x="3403.7" dy="14.6">of membrane</tspan><tspan x="3403.7" dy="14.6">permeability</tspan></text></g>
<g id="n_tcellapop" class="n"><rect x="3491.5" y="717.85" width="106.9" height="48.5"/><text x="3544.95" y="739.1">T cell apoptotic<tspan x="3544.95" dy="14.6">process</tspan></text></g>
<g id="n_regmitomemperm" class="n"><rect x="3740.5" y="717.35" width="164.1" height="49.5"/><text x="3822.55" y="731.8">regulation of<tspan x="3822.55" dy="14.6">mitochondrial</tspan><tspan x="3822.55" dy="14.6">membrane permeability</tspan></text></g>
<g id="n_posregmitoorg" class="n"><rect x="4081.6" y="717.35" width="127" height="49.5"/><text x="4145.1" y="731.8">positive regulation<tspan x="4145.1" dy="14.6">of mitochondrion</tspan><tspan x="4145.1" dy="14.6">organization</tspan></text></g>
<g id="n_natt" class="n"><rect x="1497.6" y="831.95" width="155.5" height="48.5"/><text x="1575.35" y="853.2">nucleic acid-templated<tspan x="1575.35" dy="14.6">transcription</tspan></text></g>
<g id="n_regrnabp" class="n"><rect x="1678.1" y="831.45" width="118" height="49.5"/><text x="1737.1" y="845.9">regulation of<tspan x="1737.1" dy="14.6">RNA biosynthetic</tspan><tspan x="1737.1" dy="14.6">process</tspan></text></g>
<g id="n_aicd" class="n lb"><rect x="3340.7" y="831.45" width="125.7" height="49.5"/><text x="3403.55" y="845.9">activation-induced<tspan x="3403.55" dy="14.6">cell death of</tspan><tspan x="3403.55" dy="14.6">T cells</tspan></text></g>
<g id="n_posregmitomemperm" class="n"><rect x="3491.4" y="831.45" width="164.1" height="49.5"/><text x="3573.45" y="845.9">positive regulation<tspan x="3573.45" dy="14.6">of mitochondrial</tspan><tspan x="3573.45" dy="14.6">membrane permeability</tspan></text></g>
<g id="n_regmmpapop" class="n"><rect x="3735.5" y="816.7" width="163.4" height="79"/><text x="3817.2" y="831.3">regulation of<tspan x="3817.2" dy="14.6">mitochondrial</tspan><tspan x="3817.2" dy="14.6">membrane permeability</tspan><tspan x="3817.2" dy="14.6">involved in</tspan><tspan x="3817.2" dy="14.6">apoptotic process</tspan></text></g>
<g id="n_dtt" class="n"><rect x="1522.6" y="966.25" width="106.3" height="48.5"/><text x="1575.75" y="987.5">DNA-templated<tspan x="1575.75" dy="14.6">transcription</tspan></text></g>
<g id="n_regnatt" class="n"><rect x="1652.4" y="965.75" width="155.5" height="49.5"/><text x="1730.15" y="980.2">regulation of<tspan x="1730.15" dy="14.6">nucleic acid-templated</tspan><tspan x="1730.15" dy="14.6">transcription</tspan></text></g>
<g id="n_momppcd" class="n"><rect x="3634.8" y="943.75" width="117.1" height="93.5"/><text x="3693.35" y="958.3">mitochondrial<tspan x="3693.35" dy="14.6">outer membrane</tspan><tspan x="3693.35" dy="14.6">permeabilization</tspan><tspan x="3693.35" dy="14.6">involved in</tspan><tspan x="3693.35" dy="14.6">programmed cell</tspan><tspan x="3693.35" dy="14.6">death</tspan></text></g>
<g id="n_regdtt" class="n"><rect x="1599.6" y="1100.35" width="106.3" height="49.5"/><text x="1652.75" y="1114.8">regulation of<tspan x="1652.75" dy="14.6">DNA-templated</tspan><tspan x="1652.75" dy="14.6">transcription</tspan></text></g>
<g id="n_regmf" class="n"><rect x="2248.9" y="1100.85" width="128.5" height="48.5"/><text x="2313.15" y="1122.1">regulation of<tspan x="2313.15" dy="14.6">molecular function</tspan></text></g>
<g id="n_posregmmpapop" class="n"><rect x="3735.5" y="1085.6" width="163.4" height="79"/><text x="3817.2" y="1100.2">positive regulation<tspan x="3817.2" dy="14.6">of mitochondrial</tspan><tspan x="3817.2" dy="14.6">membrane permeability</tspan><tspan x="3817.2" dy="14.6">involved in</tspan><tspan x="3817.2" dy="14.6">apoptotic process</tspan></text></g>
<g id="n_regdbtf" class="n"><rect x="2124.6" y="1212.95" width="96.6" height="64.3"/><text x="2172.9" y="1227.5">regulation of<tspan x="2172.9" dy="14.6">DNA-binding</tspan><tspan x="2172.9" dy="14.6">transcription</tspan><tspan x="2172.9" dy="14.6">factor activity</tspan></text></g>
<g id="n_negregmf" class="n"><rect x="2246.6" y="1220.35" width="133.1" height="49.5"/><text x="2313.15" y="1234.8">negative regulation<tspan x="2313.15" dy="14.6">of molecular</tspan><tspan x="2313.15" dy="14.6">function</tspan></text></g>
<g id="n_momp" class="n"><rect x="3791.8" y="1220.35" width="114.9" height="49.5"/><text x="3849.25" y="1234.8">mitochondrial<tspan x="3849.25" dy="14.6">outer membrane</tspan><tspan x="3849.25" dy="14.6">permeabilization</tspan></text></g>
<g id="n_negregdbtf" class="n"><rect x="2176.9" y="1347.85" width="133.6" height="64.3"/><text x="2243.7" y="1362.4">negative regulation<tspan x="2243.7" dy="14.6">of DNA-binding</tspan><tspan x="2243.7" dy="14.6">transcription</tspan><tspan x="2243.7" dy="14.6">factor activity</tspan></text></g>
<g id="n_regmompapop" class="n"><rect x="3931" y="1326" width="130.6" height="108"/><text x="3996.3" y="1340.5">regulation of<tspan x="3996.3" dy="14.6">mitochondrial</tspan><tspan x="3996.3" dy="14.6">outer membrane</tspan><tspan x="3996.3" dy="14.6">permeabilization</tspan><tspan x="3996.3" dy="14.6">involved in</tspan><tspan x="3996.3" dy="14.6">apoptotic signaling</tspan><tspan x="3996.3" dy="14.6">pathway</tspan></text></g>
<g id="n_negregnfkb" class="n lb"><rect x="2176.9" y="1504.85" width="133.6" height="64.3"/><text x="2243.7" y="1519.4">negative regulation<tspan x="2243.7" dy="14.6">of NF-kappaB</tspan><tspan x="2243.7" dy="14.6">transcription</tspan><tspan x="2243.7" dy="14.6">factor activity</tspan></text></g>
<g id="n_posregmompapop" class="n lb"><rect x="3931" y="1483" width="130.6" height="108"/><text x="3996.3" y="1497.5">positive regulation<tspan x="3996.3" dy="14.6">of mitochondrial</tspan><tspan x="3996.3" dy="14.6">outer membrane</tspan><tspan x="3996.3" dy="14.6">permeabilization</tspan><tspan x="3996.3" dy="14.6">involved in</tspan><tspan x="3996.3" dy="14.6">apoptotic signaling</tspan><tspan x="3996.3" dy="14.6">pathway</tspan></text></g>
</svg>
